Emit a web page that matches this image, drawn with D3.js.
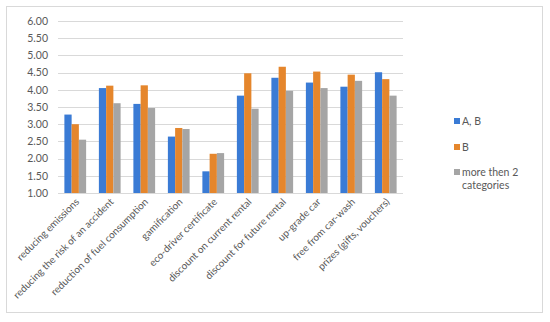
<!DOCTYPE html>
<html>
<head>
<meta charset="utf-8">
<script src="https://cdn.jsdelivr.net/npm/d3@7"></script>
<style>
  body { margin: 0; background: #fff; }
  text { font-family: Lato, "Open Sans", sans-serif; fill: #595959; }
</style>
</head>
<body>
<div id="chart"></div>
<script>
var categories = ["reducing emissions", "reducing the risk of an accident", "reduction of fuel consumption",
    "gamification", "eco-driver certificate", "discount on current rental", "discount for future rental",
    "up-grade car", "free from car-wash", "prizes (gifts, vouchers)"];
var seriesNames = ["A, B", "B", "more then 2 categories"];
var valuesAB = [3.28, 4.05, 3.59, 2.64, 1.63, 3.83, 4.35, 4.21, 4.09, 4.51];
var valuesB = [3.00, 4.12, 4.13, 2.89, 2.14, 4.48, 4.67, 4.53, 4.44, 4.31];
var valuesMore = [2.55, 3.61, 3.47, 2.86, 2.16, 3.45, 3.97, 4.05, 4.26, 3.83];
var yTicks = [1.00, 1.50, 2.00, 2.50, 3.00, 3.50, 4.00, 4.50, 5.00, 5.50, 6.00];

function init() {
    var w = 550, h = 322;
    var plot = {left: 58, right: 403, top: 21, bottom: 193};
    var colors = ["#3a7bd5", "#e5862c", "#a5a5a5"];

    var svg = d3.select("#chart").append("svg")
        .attr("width", w)
        .attr("height", h);

    // chart border
    svg.append("rect")
        .attr("x", 6.5).attr("y", 6.5)
        .attr("width", 536).attr("height", 306)
        .attr("fill", "#fff")
        .attr("stroke", "#d9d9d9");

    var x = d3.scaleBand()
        .domain(categories)
        .range([plot.left, plot.right])
        .paddingInner(0.37)
        .paddingOuter(0.185);

    var xs = d3.scaleBand()
        .domain(seriesNames)
        .range([0, x.bandwidth()]);

    var y = d3.scaleLinear()
        .domain([1, 6])
        .range([plot.bottom, plot.top]);

    // gridlines
    svg.append("g")
        .selectAll("line")
        .data(yTicks)
        .enter()
        .append("line")
        .attr("x1", plot.left)
        .attr("x2", plot.right)
        .attr("y1", function(d) { return Math.round(y(d)) + 0.5; })
        .attr("y2", function(d) { return Math.round(y(d)) + 0.5; })
        .attr("stroke", "#d9d9d9");

    // y axis labels
    var yAxis = svg.append("g")
        .attr("transform", "translate(" + (plot.left - 10) + ",0)")
        .call(d3.axisLeft(y).tickValues(yTicks).tickFormat(d3.format(".2f")).tickSize(0));
    yAxis.select(".domain").remove();
    yAxis.selectAll("text")
        .attr("x", 0)
        .style("font-size", "10.5px")
        .style("font-family", "Lato, 'Open Sans', sans-serif")
        .attr("fill", "#595959");

    var series = [valuesAB, valuesB, valuesMore];

    var groups = svg.selectAll("g.series")
        .data(series)
        .enter()
        .append("g")
        .attr("class", "series")
        .attr("fill", function(d, i) { return colors[i]; });

    groups.selectAll("rect")
        .data(function(d, i) {
            return d.map(function(v, j) { return {cat: categories[j], s: seriesNames[i], v: v}; });
        })
        .enter()
        .append("rect")
        .attr("x", function(d) { return x(d.cat) + xs(d.s); })
        .attr("y", function(d) { return y(d.v); })
        .attr("width", xs.bandwidth())
        .attr("height", function(d) { return y(1) - y(d.v); });

    // x axis labels, rotated
    var xAxis = svg.append("g")
        .attr("transform", "translate(0," + (plot.bottom + 5) + ")")
        .call(d3.axisBottom(x).tickSize(0));
    xAxis.select(".domain").remove();
    xAxis.selectAll("text")
        .attr("y", 0)
        .attr("x", 0)
        .attr("dy", "0.35em")
        .attr("transform", "translate(2,2) rotate(-45)")
        .style("text-anchor", "end")
        .style("font-size", "10px")
        .style("font-family", "Lato, 'Open Sans', sans-serif")
        .attr("fill", "#595959");

    // legend
    var legendY = [121, 147, 172];
    var legend = svg.append("g");
    seriesNames.forEach(function(name, i) {
        legend.append("rect")
            .attr("x", 454)
            .attr("y", legendY[i] - 3)
            .attr("width", 6)
            .attr("height", 6)
            .attr("fill", colors[i]);
    });
    legend.append("text").attr("x", 462).attr("y", legendY[0] + 4).text("A, B").style("font-size", "10.5px");
    legend.append("text").attr("x", 462).attr("y", legendY[1] + 4).text("B").style("font-size", "10.5px");
    legend.append("text").attr("x", 462).attr("y", legendY[2] + 4).text("more then 2").style("font-size", "10.5px");
    legend.append("text").attr("x", 462).attr("y", legendY[2] + 17).text("categories").style("font-size", "10.5px");
}

window.onload = init;
</script>
</body>
</html>
